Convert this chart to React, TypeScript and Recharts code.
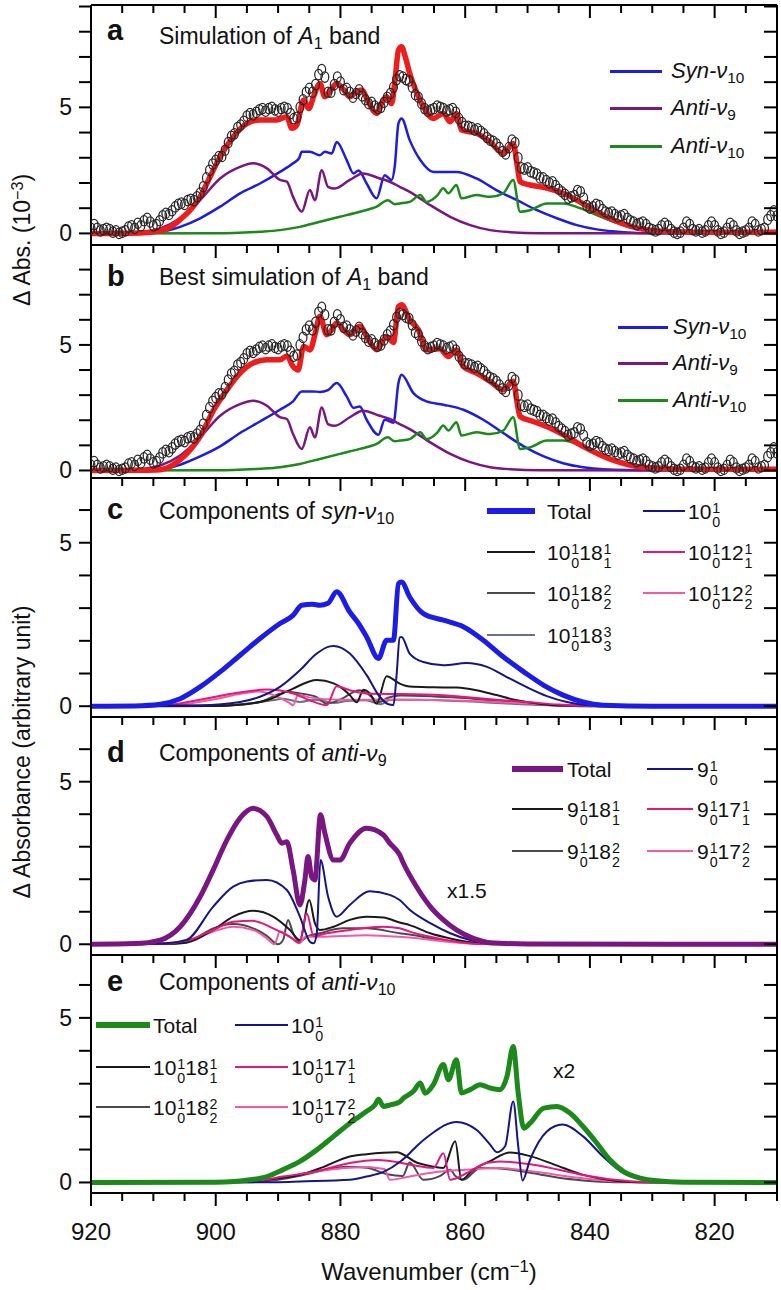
import React from "react";
import { ComposedChart, Line, Scatter, XAxis, YAxis } from "recharts";

type Pt = [number, number];

const wavenumberTicks = [920, 915, 910, 905, 900, 895, 890, 885, 880, 875, 870, 865, 860, 855, 850, 845, 840, 835, 830, 825, 820, 815, 810];
const wavenumberLabels = [920, 900, 880, 860, 840, 820];
const absTicksA = [0, 1, 2, 3, 4, 5, 6, 7, 8, 9];
const absTicksB = [0, 1, 2, 3, 4, 5, 6, 7, 8];
const arbTicks = [0, 1, 2, 3, 4, 5, 6];
const yLabels = [0, 5];

// measured spectrum (open circles), one value every 0.5 cm-1 from 920 down to 810
const expStart = 920;
const expStep = 0.5;
const expAbs = [
  0.2, 0.35, 0.2, 0.1, 0.15, 0.2, 0.15, 0.05, 0.1, 0.0,
  0.05, 0.1, 0.25, 0.3, 0.2, 0.4, 0.3, 0.5, 0.6, 0.45,
  0.3, 0.35, 0.5, 0.7, 0.8, 0.75, 0.9, 1.05, 1.15, 1.2,
  1.15, 1.3, 1.35, 1.3, 1.45, 1.6, 1.85, 2.2, 2.5, 2.75,
  2.9, 3.05, 3.05, 3.3, 3.6, 3.85, 3.95, 4.2, 4.3, 4.45,
  4.65, 4.75, 4.7, 4.8, 4.9, 4.95, 4.85, 4.95, 5.0, 4.9,
  4.85, 4.95, 5.0, 4.95, 4.75, 4.55, 4.6, 5.0, 5.3, 5.6,
  5.75, 5.6, 5.9, 6.3, 6.5, 6.2, 5.6, 5.6, 5.9, 6.2,
  6.0, 5.7, 5.75, 5.6, 5.4, 5.55, 5.7, 5.45, 5.3, 5.15,
  5.2, 5.05, 4.95, 5.0, 5.2, 5.4, 5.55, 5.8, 6.1, 6.25,
  6.2, 6.1, 6.05, 5.8, 5.5, 5.4, 5.15, 4.95, 4.85, 4.9,
  4.95, 5.05, 5.0, 4.95, 4.85, 4.9, 4.95, 4.8, 4.55, 4.4,
  4.25, 4.25, 4.2, 4.1, 4.15, 4.05, 3.95, 3.8, 3.7, 3.65,
  3.55, 3.4, 3.25, 3.15, 3.4, 3.7, 3.6, 3.0, 2.6, 2.55,
  2.6, 2.45, 2.4, 2.35, 2.2, 2.2, 2.1, 2.0, 2.05, 1.9,
  1.75, 1.65, 1.55, 1.4, 1.45, 1.5, 1.7, 1.65, 1.4, 1.1,
  1.0, 1.05, 1.15, 1.1, 0.95, 0.85, 0.8, 0.85, 0.75, 0.65,
  0.7, 0.75, 0.6, 0.5, 0.45, 0.35, 0.4, 0.45, 0.35, 0.2,
  0.15, 0.1, 0.15, 0.3, 0.4, 0.3, 0.15, 0.05, 0.0, 0.05,
  0.2, 0.45, 0.35, 0.15, 0.1, 0.15, 0.05, 0.1, 0.3, 0.45,
  0.3, 0.1, 0.0, 0.05, 0.2, 0.4, 0.3, 0.1, 0.0, 0.05,
  0.1, 0.2, 0.45, 0.35, 0.1, 0.15, 0.2, 0.55, 0.7, 0.9,
  0.7,
];

// a: simulation of A1 band
const simA: Pt[] = [
  [920, 0], [912, 0.02], [909, 0.1], [907, 0.3], [905.7, 0.55], [904, 0.95], [902.5, 1.45], [900.9, 2.25],
  [899.3, 3.04], [897.2, 3.83], [895, 4.36], [892.9, 4.5], [890.2, 4.5], [888.6, 4.63], [887.8, 4.17], [887, 4.3],
  [885.9, 5.29], [885.1, 4.95], [884.2, 5.5], [883.3, 5.95], [882.5, 5.42], [881.5, 5.7], [880.6, 5.95], [879.5, 5.7],
  [878.5, 5.42], [877.5, 5.6], [876.6, 5.69], [875.5, 5.2], [874.2, 4.76], [873.3, 5.2], [872.6, 5.42], [871.8, 5.15],
  [871.2, 6.2], [870.7, 7.27], [870.2, 7.4], [869.6, 7.0], [868.9, 6.35], [867.8, 5.6], [866.7, 5.02], [865.1, 4.56],
  [863.5, 4.76], [862.4, 4.43], [861.4, 4.76], [860.6, 4.1], [858.2, 3.97], [856, 3.63], [853.9, 3.17], [852.3, 3.57],
  [851.6, 2.6], [851.2, 2.05], [849.6, 1.92], [846.9, 1.8], [844.3, 1.59], [841.6, 1.25], [838.9, 0.86], [836.2, 0.53],
  [833.6, 0.29], [830.4, 0.13], [826.6, 0.07], [820, 0.05], [810, 0.05],
];
const synA: Pt[] = [
  [920, 0], [914, 0.01], [912, 0.03], [908.9, 0.06], [905.7, 0.26], [902.5, 0.6], [899.3, 1.06], [896.1, 1.59],
  [892.9, 1.98], [889.7, 2.44], [887.6, 2.78], [886.6, 3.0], [886.2, 3.24], [884.9, 3.24], [883.3, 3.1], [882.5, 3.24],
  [881.4, 3.17], [880.6, 3.63], [879, 2.91], [877.9, 2.38], [877.1, 2.5], [875.8, 1.98], [874.2, 1.39], [872.9, 2.31],
  [871.8, 2.12], [871.3, 2.64], [870.7, 4.36], [870.2, 4.56], [868.9, 3.7], [867.2, 2.91], [865.1, 2.44], [861.4, 2.44],
  [858.2, 2.18], [855, 1.72], [851.7, 1.32], [848.5, 0.92], [845.3, 0.6], [842.1, 0.33], [838.9, 0.16], [834.6, 0.05],
  [830, 0.01], [810, 0],
];
const antiNu9: Pt[] = [
  [920, 0], [914, 0.02], [912, 0.05], [908.9, 0.2], [905.7, 0.6], [902.5, 1.32], [899.3, 2.18], [896.1, 2.64],
  [894, 2.78], [891.8, 2.58], [889.7, 2.12], [888.6, 2.05], [887.6, 1.45], [886.2, 0.86], [884.9, 1.72], [884.1, 1.32],
  [883, 2.51], [882, 1.85], [880.9, 1.78], [878.5, 2.12], [876.4, 2.38], [873.7, 2.18], [872.1, 2.05], [870.5, 1.85],
  [868.9, 1.65], [865.6, 1.12], [862.4, 0.66], [859.2, 0.33], [856, 0.13], [852.8, 0.05], [848, 0.01], [810, 0],
];
const antiNu10: Pt[] = [
  [920, 0], [900, 0.01], [897.2, 0.02], [892.9, 0.07], [889.7, 0.13], [886.5, 0.26], [883.3, 0.46], [880.1, 0.66],
  [876.9, 0.86], [874.2, 1.06], [872.4, 1.32], [871.3, 1.16], [870.5, 1.19], [868.9, 1.25], [867.2, 1.52], [866.2, 1.25],
  [864.5, 1.5], [863.5, 1.79], [862.7, 1.59], [861.4, 1.92], [860.6, 1.39], [858.2, 1.52], [856, 1.45], [853.9, 1.59],
  [852.3, 2.12], [851.2, 0.86], [849.6, 0.92], [846.9, 1.19], [844.3, 1.19], [841.6, 1.0], [838.9, 0.73], [836.2, 0.46],
  [833.6, 0.26], [830.4, 0.13], [826.6, 0.05], [820, 0.01], [810, 0],
];

// b: best simulation
const simB: Pt[] = [
  [920, 0], [912, 0.01], [908.9, 0.03], [907, 0.2], [905.7, 0.43], [904, 0.85], [902.5, 1.35], [900.3, 2.42],
  [898.2, 3.21], [896.1, 3.88], [894, 4.28], [891.8, 4.41], [889.7, 4.41], [888.6, 4.56], [887.6, 4.14], [886.8, 4.0],
  [885.9, 4.94], [884.9, 4.8], [884, 5.5], [883.3, 6.14], [882.2, 5.41], [881.4, 5.6], [880.6, 5.87], [879.5, 5.6],
  [878.5, 5.41], [876.9, 5.74], [875.5, 5.2], [874.2, 4.81], [872.6, 5.34], [871.5, 5.1], [870.7, 6.53], [870.2, 6.6],
  [868.9, 6.0], [867.5, 5.6], [866.2, 4.8], [864.1, 4.85], [862.7, 4.54], [861.4, 4.8], [860.3, 4.14], [858.2, 3.88],
  [856, 3.55], [853.9, 3.21], [852.3, 3.55], [851.6, 2.6], [851.2, 2.15], [849.1, 1.95], [846.4, 1.69], [843.7, 1.35],
  [841.1, 0.96], [838.4, 0.63], [835.7, 0.36], [832.5, 0.16], [829.3, 0.1], [824, 0.05], [810, 0.05],
];
const synB: Pt[] = [
  [920, 0], [912, 0.01], [908.9, 0.03], [905.7, 0.23], [902.5, 0.56], [899.3, 0.96], [896.1, 1.49], [892.9, 1.95],
  [889.7, 2.42], [887.6, 2.75], [886.2, 3.15], [884.5, 3.15], [883.3, 3.13], [882, 3.2], [880.6, 3.48], [879, 2.95],
  [877.9, 2.49], [876.9, 2.55], [875.8, 2.02], [873.9, 1.42], [872.9, 2.02], [871.5, 1.9], [870.7, 3.48], [870.2, 3.81],
  [868.3, 3.08], [866.2, 2.75], [863.5, 2.62], [860.3, 2.42], [857.1, 2.02], [853.9, 1.49], [850.6, 0.96], [847.4, 0.56],
  [844.3, 0.29], [841.1, 0.13], [837.9, 0.05], [830, 0.01], [810, 0],
];

// c: components of syn-v10
const synTotal: Pt[] = [
  [920, 0], [913, 0.01], [908.9, 0.06], [905.7, 0.23], [902.5, 0.59], [899.3, 1.05], [896.1, 1.56], [892.9, 2.07],
  [889.7, 2.53], [887.6, 2.78], [886.2, 3.09], [884.5, 3.12], [883.3, 3.09], [882, 3.15], [880.6, 3.5], [878.5, 2.88],
  [877.1, 2.53], [875.8, 2.12], [873.9, 1.46], [872.6, 2.02], [871.5, 2.02], [870.7, 3.75], [870.2, 3.8], [868.9, 3.34],
  [866.7, 2.83], [863.5, 2.63], [860.3, 2.43], [857.1, 2.02], [853.9, 1.51], [850.6, 1.05], [847.4, 0.64], [844.3, 0.34],
  [841.1, 0.13], [837.9, 0.03], [830, 0], [810, 0],
];
const syn10: Pt[] = [
  [920, 0], [902.5, 0.03], [896.1, 0.13], [892.9, 0.29], [889.7, 0.59], [886.5, 1.1], [883.8, 1.61], [881.7, 1.83],
  [881.1, 1.84], [878.5, 1.61], [875.8, 0.95], [873.7, 0.29], [872.3, 0.06], [871.5, 0.04], [871, 0.95], [870.5, 2.1],
  [870.2, 2.12], [868.9, 1.61], [866.7, 1.35], [863.5, 1.25], [859.8, 1.32], [856.6, 1.21], [853.4, 0.9], [850.2, 0.59],
  [846.9, 0.31], [843.7, 0.13], [840, 0.03], [830, 0], [810, 0],
];
const syn18a: Pt[] = [
  [920, 0], [900, 0.01], [897.2, 0.03], [891.8, 0.18], [889.2, 0.4], [887.6, 0.54], [883.8, 0.8], [881.1, 0.7],
  [880.1, 0.6], [878.5, 0.34], [877.4, 0.12], [876.3, 0.5], [875.3, 0.4], [874.2, 0.08], [872.6, 0.92], [870.5, 0.69],
  [868.9, 0.6], [865.1, 0.58], [861.4, 0.57], [859.8, 0.54], [858.2, 0.49], [855, 0.34], [851.7, 0.18], [848.5, 0.08],
  [845, 0.02], [830, 0], [810, 0],
];
const syn18b: Pt[] = [
  [920, 0], [900, 0.01], [896, 0.05], [892.9, 0.13], [889.7, 0.38], [888.6, 0.44], [886.5, 0.39], [883.8, 0.28],
  [882.2, 0.08], [880.1, 0.2], [876.9, 0.49], [875.8, 0.4], [873.7, 0.13], [872.5, 0.25], [870.5, 0.33], [865, 0.3],
  [860, 0.25], [855, 0.16], [850, 0.08], [845, 0.02], [840, 0], [810, 0],
];
const syn18c: Pt[] = [
  [920, 0], [900, 0.01], [895, 0.08], [891, 0.18], [889.2, 0.23], [886.5, 0.13], [884, 0.2], [881, 0.1],
  [879, 0.16], [876, 0.18], [873.5, 0.06], [872, 0.2], [868, 0.2], [860, 0.15], [852, 0.07], [845, 0.02],
  [840, 0], [810, 0],
];
const syn12a: Pt[] = [
  [920, 0], [908, 0.03], [903, 0.18], [897.2, 0.39], [891.8, 0.51], [887.6, 0.39], [884.9, 0.18], [882.2, 0.03],
  [880.6, 0.61], [878.5, 0.49], [875.8, 0.39], [870, 0.37], [865, 0.35], [860, 0.28], [855, 0.2], [849.6, 0.12],
  [845, 0.05], [840, 0.01], [810, 0],
];
const syn12b: Pt[] = [
  [920, 0], [908, 0.02], [905, 0.06], [900, 0.22], [896, 0.38], [893, 0.45], [890.5, 0.32], [888.2, 0.1],
  [887.6, 0.03], [886.8, 0.35], [885, 0.27], [880, 0.2], [870, 0.2], [860, 0.17], [850, 0.08], [845, 0.03],
  [840, 0.01], [810, 0],
];

// d: components of anti-v9 (x1.5)
const antiTotal: Pt[] = [
  [920, 0], [913, 0.02], [908.9, 0.13], [905.7, 0.54], [902.5, 1.46], [900.4, 2.29], [898.2, 3.21], [896.1, 3.88],
  [894, 4.18], [891.8, 3.93], [890.2, 3.36], [889.4, 3.11], [888.6, 3.15], [887.6, 2.29], [886.5, 1.21], [885.7, 1.98],
  [885.2, 2.7], [884.6, 2.06], [884.1, 1.98], [883.2, 3.98], [882.5, 3.42], [881.1, 2.59], [880.1, 2.59], [878.5, 3.11],
  [875.8, 3.57], [873.1, 3.36], [872.1, 3.11], [870.5, 2.75], [869.9, 2.49], [867.8, 1.77], [865.6, 1.16], [863.5, 0.75],
  [861.4, 0.44], [858.7, 0.18], [856, 0.05], [850, 0.01], [810, 0],
];
const anti9: Pt[] = [
  [920, 0], [908, 0.03], [904.7, 0.13], [900.4, 1.16], [897.2, 1.77], [895, 1.93], [891.8, 1.98], [888.6, 1.67],
  [886.5, 0.85], [884.9, 0.08], [884.3, 0.03], [883.8, 0.33], [883.2, 2.59], [882, 1.48], [880.6, 0.85], [878.5, 1.21],
  [875.3, 1.63], [872.1, 1.52], [870.5, 1.36], [868.9, 1.06], [865.6, 0.65], [862.4, 0.34], [859.2, 0.13], [856, 0.02],
  [850, 0], [810, 0],
];
const anti18a: Pt[] = [
  [920, 0], [908, 0.01], [904.7, 0.05], [900.4, 0.44], [897.2, 0.85], [894, 1.03], [890.8, 0.85], [888.1, 0.44],
  [886.5, 0.13], [885, 1.36], [884.1, 0.65], [883.3, 0.44], [881.1, 0.54], [878.5, 0.75], [875.8, 0.85], [873.1, 0.82],
  [870.5, 0.67], [868.9, 0.59], [865.6, 0.34], [862.4, 0.18], [859.2, 0.06], [855, 0.01], [810, 0],
];
const anti18b: Pt[] = [
  [920, 0], [908, 0.01], [904, 0.12], [900.4, 0.49], [897.2, 0.62], [894, 0.49], [891.8, 0.26], [890, 0.0],
  [889.2, 0.13], [888.4, 0.75], [887.6, 0.34], [886.5, 0.08], [885.4, 0.23], [883.3, 0.34], [879.6, 0.49], [875.8, 0.49],
  [870.5, 0.34], [868.9, 0.3], [864.1, 0.13], [859, 0.03], [855, 0], [810, 0],
];
const anti17a: Pt[] = [
  [920, 0], [908, 0.02], [904, 0.15], [900.4, 0.44], [897.2, 0.69], [894, 0.72], [890.8, 0.49], [888.1, 0.23],
  [886.6, 0.05], [885.4, 0.95], [884.3, 0.25], [882.2, 0.34], [878.5, 0.44], [873.1, 0.54], [870.5, 0.49], [868.9, 0.39],
  [865.6, 0.23], [861.4, 0.08], [857, 0.01], [810, 0],
];
const anti17b: Pt[] = [
  [920, 0], [908, 0.02], [904, 0.13], [900.4, 0.39], [897.2, 0.54], [894, 0.44], [891.8, 0.18], [890.6, 0.0],
  [889.7, 0.39], [888.1, 0.23], [886.6, 0.03], [885.6, 0.23], [883.3, 0.23], [875.8, 0.28], [870.5, 0.23], [866, 0.15],
  [862, 0.06], [858, 0.01], [810, 0],
];

// e: components of anti-v10 (x2)
const a10Total: Pt[] = [
  [920, 0], [900, 0.01], [897, 0.03], [894.5, 0.08], [891.8, 0.18], [889.2, 0.39], [886.5, 0.64], [883.8, 0.99],
  [881.1, 1.4], [878.5, 1.8], [875.8, 2.16], [874.5, 2.35], [873.9, 2.53], [873.1, 2.31], [872.1, 2.35], [870.5, 2.45],
  [869.9, 2.56], [868.3, 2.77], [867.2, 3.02], [866.4, 2.71], [865.1, 2.97], [863.5, 3.58], [862.7, 3.12], [861.4, 3.73],
  [860.6, 2.72], [859.2, 2.82], [857.6, 2.97], [856, 2.87], [854.4, 2.82], [853.3, 3.22], [852.3, 4.13], [851.5, 2.72],
  [850.6, 1.65], [849.6, 1.8], [847.4, 2.26], [845.3, 2.31], [843.2, 2.11], [841.1, 1.7], [838.9, 1.2], [836.8, 0.69],
  [834.6, 0.33], [831.9, 0.13], [829.3, 0.05], [825, 0.01], [810, 0],
];
const a10Base: Pt[] = [
  [920, 0], [890, 0.01], [886.5, 0.03], [878.5, 0.08], [875.8, 0.18], [873.1, 0.32], [870.5, 0.62], [868.9, 0.89],
  [867.8, 1.1], [865.6, 1.45], [861.4, 1.84], [858.2, 1.6], [856, 1.15], [854.9, 0.92], [853.6, 1.1], [852.3, 2.46],
  [851.5, 1.11], [850.8, 0.06], [849.6, 0.69], [846.9, 1.55], [844.4, 1.76], [841.1, 1.4], [837.9, 0.79], [834.6, 0.28],
  [831.4, 0.08], [828, 0.01], [810, 0],
];
const a10x18a: Pt[] = [
  [920, 0], [895, 0.02], [891.8, 0.08], [886.5, 0.23], [883, 0.45], [878.5, 0.79], [875.8, 0.86], [871, 0.92],
  [867.6, 0.59], [866.2, 0.52], [863.5, 0.44], [861.6, 1.25], [860.6, 0.08], [858.7, 0.39], [856, 0.65], [852.8, 0.91],
  [849.6, 0.8], [845.8, 0.55], [841.1, 0.23], [838.3, 0.12], [835, 0.03], [830, 0], [810, 0],
];
const a10x18b: Pt[] = [
  [920, 0], [895, 0.01], [890, 0.08], [886.5, 0.2], [882, 0.4], [879, 0.48], [875.8, 0.45], [872.5, 0.25],
  [870, 0.2], [868.9, 0.61], [866.7, 0.08], [864, 0.2], [862.4, 0.39], [861.6, 0.2], [860.3, 0.08], [857.6, 0.44],
  [855, 0.43], [849.1, 0.28], [845, 0.14], [841.1, 0.06], [836, 0.01], [810, 0],
];
const a10x17a: Pt[] = [
  [920, 0], [895, 0.02], [889.2, 0.18], [884, 0.33], [878.5, 0.59], [874, 0.68], [871, 0.62], [868.3, 0.52],
  [865.1, 0.44], [863.5, 0.89], [862.4, 0.08], [859.8, 0.28], [856.6, 0.59], [854.4, 0.64], [849.1, 0.54], [841.1, 0.23],
  [836, 0.08], [833.6, 0.04], [828, 0.01], [810, 0],
];
const a10x17b: Pt[] = [
  [920, 0], [895, 0.02], [889, 0.15], [884, 0.33], [878.5, 0.45], [875.5, 0.47], [874.2, 0.44], [872.9, 0.4],
  [872.1, 0.08], [868.9, 0.18], [864, 0.33], [860.5, 0.38], [854.4, 0.44], [849.1, 0.33], [841.1, 0.13], [836, 0.04],
  [830, 0.01], [810, 0],
];

const FONT = '"Liberation Sans", Arial, Helvetica, sans-serif';
const BLUE = "#1c1ce8";
const NAVY = "#14148c";
const PURPLE = "#7a1682";
const GREEN = "#1b8a1b";
const RED = "#ee1c1c";
const BLACK = "#1a1a1a";
const DGRAY = "#4a4a4a";
const SLATE = "#6a7085";
const DPINK = "#e8157d";
const LPINK = "#f25aa8";

const toXY = (pts: Pt[]) => pts.map(([x, y]) => ({ x, y }));
const expPoints = expAbs.map((y, i) => ({ x: expStart - i * expStep, y }));

const axisLine = { stroke: "#000", strokeWidth: 2 };

const TopTick = (p: any) => {
  const major = p.payload.value % 20 === 0;
  return <line x1={p.x} x2={p.x} y1={p.y} y2={p.y + (major ? 13 : 8)} stroke="#000" strokeWidth={2} />;
};

const BottomTick = (p: any) => {
  const v = p.payload.value;
  const major = v % 20 === 0;
  return (
    <g>
      <line x1={p.x} x2={p.x} y1={p.y} y2={p.y + (major ? 13 : 8)} stroke="#000" strokeWidth={2} />
      {wavenumberLabels.includes(v) && (
        <text x={p.x} y={p.y + 38} textAnchor="middle" dominantBaseline="central" fontSize={24} fontFamily={FONT} fill="#111">
          {v}
        </text>
      )}
    </g>
  );
};

const LeftTick = (p: any) => {
  const v = p.payload.value;
  return (
    <g>
      <line x1={p.x - 12} x2={p.x} y1={p.y} y2={p.y} stroke="#000" strokeWidth={2} />
      {yLabels.includes(v) && (
        <text x={p.x - 19} y={p.y} textAnchor="end" dominantBaseline="central" fontSize={23} fontFamily={FONT} fill="#111">
          {v}
        </text>
      )}
    </g>
  );
};

const RightTick = (p: any) => <line x1={p.x - 13} x2={p.x} y1={p.y} y2={p.y} stroke="#000" strokeWidth={2} />;

const ring = (p: any) => <ellipse cx={p.cx} cy={p.cy} rx={3.9} ry={5.2} fill="none" stroke="#262626" strokeWidth={1.25} />;

function series(key: string, pts: Pt[], color: string, width: number) {
  return (
    <Line
      key={key}
      xAxisId="b"
      yAxisId="l"
      data={toXY(pts)}
      dataKey="y"
      type="monotone"
      stroke={color}
      strokeWidth={width}
      strokeLinejoin="round"
      dot={false}
      activeDot={false}
      isAnimationActive={false}
    />
  );
}

function Panel(props: { top: number; h: number; domain: [number, number]; yTicks: number[]; last?: boolean; children: React.ReactNode }) {
  const axisH = props.last ? 60 : 1;
  const below = props.last ? 0 : 14;
  return (
    <div style={{ position: "absolute", left: 0, top: props.top - 4 }}>
      <ComposedChart width={781} height={props.h + 4 + axisH + below} margin={{ top: 3, right: 3, bottom: below, left: 90 }}>
        <XAxis xAxisId="t" orientation="top" type="number" dataKey="x" domain={[810, 920]} reversed ticks={wavenumberTicks}
          height={1} tickSize={0} tickMargin={0} tick={TopTick} tickLine={false} axisLine={axisLine} interval={0} allowDataOverflow />
        <XAxis xAxisId="b" orientation="bottom" type="number" dataKey="x" domain={[810, 920]} reversed ticks={wavenumberTicks}
          height={axisH} tickSize={0} tickMargin={0} tick={props.last ? BottomTick : false} tickLine={false}
          axisLine={props.last ? axisLine : false} interval={0} allowDataOverflow />
        <YAxis yAxisId="l" orientation="left" type="number" dataKey="y" domain={props.domain} ticks={props.yTicks} width={1}
          tickSize={0} tickMargin={0} tick={LeftTick} tickLine={false} axisLine={axisLine} interval={0} allowDataOverflow />
        <YAxis yAxisId="r" orientation="right" type="number" dataKey="y" domain={props.domain} ticks={props.yTicks} width={1}
          tickSize={0} tickMargin={0} tick={RightTick} tickLine={false} axisLine={axisLine} interval={0} allowDataOverflow />
        {props.children}
      </ComposedChart>
    </div>
  );
}

function T(props: { x: number; base: number; fs: number; bold?: boolean; children: React.ReactNode }) {
  return (
    <div style={{ position: "absolute", left: props.x, top: props.base - 0.85 * props.fs, fontSize: props.fs, lineHeight: `${props.fs}px`,
      whiteSpace: "nowrap", fontWeight: props.bold ? 700 : 400, color: "#111" }}>
      {props.children}
    </div>
  );
}

const I = ({ children }: { children: React.ReactNode }) => <span style={{ fontStyle: "italic" }}>{children}</span>;
const Sub = ({ children }: { children: React.ReactNode }) => (
  <span style={{ position: "relative", top: "0.3em", fontSize: "0.7em" }}>{children}</span>
);

function Iso({ b, sup, sub, fs }: { b: string; sup: string; sub: string; fs: number }) {
  const s = fs * 0.68;
  return (
    <span>
      {b}
      <span style={{ position: "relative", display: "inline-block", width: s * 0.62, height: 0 }}>
        <span style={{ position: "absolute", left: 1, bottom: fs * 0.15, fontSize: s, lineHeight: `${s}px` }}>{sup}</span>
        <span style={{ position: "absolute", left: 1, top: -fs * 0.18, fontSize: s, lineHeight: `${s}px` }}>{sub}</span>
      </span>
    </span>
  );
}

function Key(props: { x1: number; x2: number; tx: number; y: number; color: string; w: number; fs: number; children: React.ReactNode }) {
  return (
    <>
      <div style={{ position: "absolute", left: props.x1, top: props.y - props.w / 2, width: props.x2 - props.x1, height: props.w, background: props.color }} />
      <T x={props.tx} base={props.y + 0.36 * props.fs} fs={props.fs}>{props.children}</T>
    </>
  );
}

export default function App() {
  const LF = 21;
  return (
    <div style={{ position: "absolute", left: 0, top: 0, width: 781, height: 1290, background: "#fff", fontFamily: FONT, overflow: "hidden" }}>
      <Panel top={5} h={240} domain={[-0.46, 9.06]} yTicks={absTicksA}>
        <Scatter xAxisId="b" yAxisId="l" data={expPoints} dataKey="y" shape={ring} isAnimationActive={false} />
        {series("syn", synA, BLUE, 2.5)}
        {series("a9", antiNu9, PURPLE, 2.5)}
        {series("a10", antiNu10, GREEN, 2.5)}
        {series("sim", simA, RED, 5.5)}
      </Panel>
      <Panel top={245} h={233} domain={[-0.3, 8.98]} yTicks={absTicksB}>
        <Scatter xAxisId="b" yAxisId="l" data={expPoints} dataKey="y" shape={ring} isAnimationActive={false} />
        {series("syn", synB, BLUE, 2.5)}
        {series("a9", antiNu9, PURPLE, 2.5)}
        {series("a10", antiNu10, GREEN, 2.5)}
        {series("sim", simB, RED, 5.5)}
      </Panel>
      <Panel top={478} h={239} domain={[-0.33, 6.98]} yTicks={arbTicks}>
        {series("c183", syn18c, SLATE, 2)}
        {series("c182", syn18b, DGRAY, 2)}
        {series("c122", syn12b, LPINK, 2)}
        {series("c181", syn18a, BLACK, 2)}
        {series("c121", syn12a, DPINK, 2)}
        {series("c10", syn10, NAVY, 2)}
        {series("ct", synTotal, BLUE, 5)}
      </Panel>
      <Panel top={717} h={238} domain={[-0.33, 6.99]} yTicks={arbTicks}>
        {series("d182", anti18b, DGRAY, 2)}
        {series("d172", anti17b, LPINK, 2)}
        {series("d181", anti18a, BLACK, 2)}
        {series("d171", anti17a, DPINK, 2)}
        {series("d9", anti9, NAVY, 2)}
        {series("dt", antiTotal, PURPLE, 5)}
      </Panel>
      <Panel top={955} h={238} domain={[-0.32, 6.91]} yTicks={arbTicks} last>
        {series("e182", a10x18b, DGRAY, 2)}
        {series("e172", a10x17b, LPINK, 2)}
        {series("e181", a10x18a, BLACK, 2)}
        {series("e171", a10x17a, DPINK, 2)}
        {series("e10", a10Base, NAVY, 2)}
        {series("et", a10Total, GREEN, 5)}
      </Panel>

      {/* panel letters and titles */}
      <T x={107} base={41} fs={29} bold>a</T>
      <T x={159} base={45} fs={23}>Simulation of <I>A</I><Sub>1</Sub> band</T>
      <T x={107} base={287} fs={29} bold>b</T>
      <T x={159} base={286} fs={23}>Best simulation of <I>A</I><Sub>1</Sub> band</T>
      <T x={107} base={520} fs={29} bold>c</T>
      <T x={159} base={520} fs={23}>Components of <I>syn-ν</I><Sub>10</Sub></T>
      <T x={107} base={763} fs={29} bold>d</T>
      <T x={159} base={762} fs={23}>Components of <I>anti-ν</I><Sub>9</Sub></T>
      <T x={107} base={992} fs={29} bold>e</T>
      <T x={159} base={991} fs={23}>Components of <I>anti-ν</I><Sub>10</Sub></T>

      {/* legends a, b */}
      <Key x1={610} x2={662} tx={671} y={71} color={BLUE} w={3} fs={22}><I>Syn-ν</I><Sub>10</Sub></Key>
      <Key x1={610} x2={662} tx={671} y={108} color={PURPLE} w={3} fs={22}><I>Anti-ν</I><Sub>9</Sub></Key>
      <Key x1={610} x2={662} tx={671} y={146} color={GREEN} w={3} fs={22}><I>Anti-ν</I><Sub>10</Sub></Key>
      <Key x1={618} x2={668} tx={673} y={327} color={BLUE} w={3} fs={22}><I>Syn-ν</I><Sub>10</Sub></Key>
      <Key x1={618} x2={668} tx={673} y={363} color={PURPLE} w={3} fs={22}><I>Anti-ν</I><Sub>9</Sub></Key>
      <Key x1={618} x2={668} tx={673} y={400} color={GREEN} w={3} fs={22}><I>Anti-ν</I><Sub>10</Sub></Key>

      {/* legend c */}
      <Key x1={487} x2={535} tx={547} y={511} color={BLUE} w={6} fs={LF}>Total</Key>
      <Key x1={487} x2={535} tx={547} y={552} color={BLACK} w={2.5} fs={LF}><Iso b="10" sup="1" sub="0" fs={LF} /><Iso b="18" sup="1" sub="1" fs={LF} /></Key>
      <Key x1={487} x2={535} tx={547} y={593} color={DGRAY} w={2.5} fs={LF}><Iso b="10" sup="1" sub="0" fs={LF} /><Iso b="18" sup="2" sub="2" fs={LF} /></Key>
      <Key x1={487} x2={535} tx={547} y={635} color={SLATE} w={2.5} fs={LF}><Iso b="10" sup="1" sub="0" fs={LF} /><Iso b="18" sup="3" sub="3" fs={LF} /></Key>
      <Key x1={643} x2={685} tx={688} y={511} color={NAVY} w={2.5} fs={LF}><Iso b="10" sup="1" sub="0" fs={LF} /></Key>
      <Key x1={643} x2={685} tx={688} y={552} color={DPINK} w={2.5} fs={LF}><Iso b="10" sup="1" sub="0" fs={LF} /><Iso b="12" sup="1" sub="1" fs={LF} /></Key>
      <Key x1={643} x2={685} tx={688} y={593} color={LPINK} w={2.5} fs={LF}><Iso b="10" sup="1" sub="0" fs={LF} /><Iso b="12" sup="2" sub="2" fs={LF} /></Key>

      {/* legend d */}
      <Key x1={512} x2={563} tx={567} y={769} color={PURPLE} w={6} fs={LF}>Total</Key>
      <Key x1={512} x2={563} tx={567} y={809} color={BLACK} w={2.5} fs={LF}><Iso b="9" sup="1" sub="0" fs={LF} /><Iso b="18" sup="1" sub="1" fs={LF} /></Key>
      <Key x1={512} x2={563} tx={567} y={851} color={DGRAY} w={2.5} fs={LF}><Iso b="9" sup="1" sub="0" fs={LF} /><Iso b="18" sup="2" sub="2" fs={LF} /></Key>
      <Key x1={647} x2={693} tx={697} y={769} color={NAVY} w={2.5} fs={LF}><Iso b="9" sup="1" sub="0" fs={LF} /></Key>
      <Key x1={647} x2={693} tx={697} y={809} color={DPINK} w={2.5} fs={LF}><Iso b="9" sup="1" sub="0" fs={LF} /><Iso b="17" sup="1" sub="1" fs={LF} /></Key>
      <Key x1={647} x2={693} tx={697} y={851} color={LPINK} w={2.5} fs={LF}><Iso b="9" sup="1" sub="0" fs={LF} /><Iso b="17" sup="2" sub="2" fs={LF} /></Key>
      <T x={447} base={898} fs={21}>x1.5</T>

      {/* legend e */}
      <Key x1={96} x2={150} tx={153} y={1025} color={GREEN} w={6} fs={LF}>Total</Key>
      <Key x1={96} x2={150} tx={153} y={1067} color={BLACK} w={2.5} fs={LF}><Iso b="10" sup="1" sub="0" fs={LF} /><Iso b="18" sup="1" sub="1" fs={LF} /></Key>
      <Key x1={96} x2={150} tx={153} y={1107} color={DGRAY} w={2.5} fs={LF}><Iso b="10" sup="1" sub="0" fs={LF} /><Iso b="18" sup="2" sub="2" fs={LF} /></Key>
      <Key x1={235} x2={288} tx={291} y={1025} color={NAVY} w={2.5} fs={LF}><Iso b="10" sup="1" sub="0" fs={LF} /></Key>
      <Key x1={235} x2={288} tx={291} y={1067} color={DPINK} w={2.5} fs={LF}><Iso b="10" sup="1" sub="0" fs={LF} /><Iso b="17" sup="1" sub="1" fs={LF} /></Key>
      <Key x1={235} x2={288} tx={291} y={1107} color={LPINK} w={2.5} fs={LF}><Iso b="10" sup="1" sub="0" fs={LF} /><Iso b="17" sup="2" sub="2" fs={LF} /></Key>
      <T x={553} base={1078} fs={21}>x2</T>

      {/* axis titles */}
      <div style={{ position: "absolute", left: 22, top: 240, transform: "translate(-50%, -50%) rotate(-90deg)", whiteSpace: "nowrap", fontSize: 23, color: "#111" }}>
        Δ Abs. (10<span style={{ position: "relative", top: "-0.45em", fontSize: "0.7em" }}>−3</span>)
      </div>
      <div style={{ position: "absolute", left: 22, top: 752, transform: "translate(-50%, -50%) rotate(-90deg)", whiteSpace: "nowrap", fontSize: 23, color: "#111" }}>
        Δ Absorbance (arbitrary unit)
      </div>
      <div style={{ position: "absolute", left: 429, top: 1272, transform: "translate(-50%, -50%)", whiteSpace: "nowrap", fontSize: 24, color: "#111" }}>
        Wavenumber (cm<span style={{ position: "relative", top: "-0.45em", fontSize: "0.7em" }}>−1</span>)
      </div>
    </div>
  );
}
